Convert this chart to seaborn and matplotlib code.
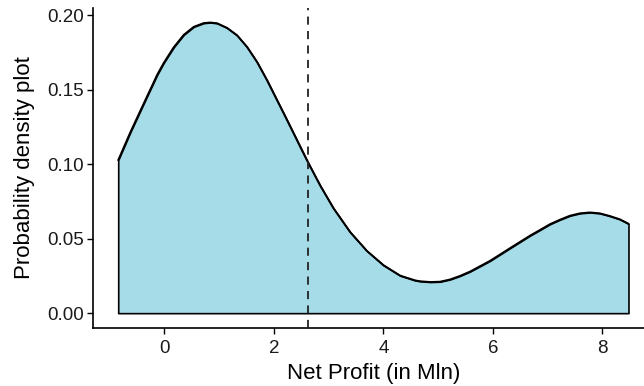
import numpy as np
import pandas as pd
import matplotlib
matplotlib.use("Agg")
import matplotlib.pyplot as plt
import seaborn as sns

# Density curve
profit_x = [-0.845, -0.620, -0.378, -0.133, -0.013, 0.170, 0.352, 0.535, 0.717, 0.839,
            0.962, 1.144, 1.327, 1.509, 1.692, 1.875, 2.057, 2.208, 2.359, 2.496,
            2.633, 2.847, 3.089, 3.394, 3.699, 4.002, 4.307, 4.580, 4.672, 4.854,
            5.036, 5.219, 5.401, 5.584, 5.949, 6.314, 6.496, 6.679, 6.861, 7.044,
            7.226, 7.409, 7.591, 7.774, 7.956, 8.139, 8.321, 8.480]
density_y = [0.1027, 0.1217, 0.1408, 0.1600, 0.1680, 0.1785, 0.1868, 0.1922, 0.1947, 0.1951,
             0.1946, 0.1915, 0.1865, 0.1787, 0.1686, 0.1563, 0.1430, 0.1320, 0.1208, 0.1106,
             0.1005, 0.0856, 0.0704, 0.0544, 0.0418, 0.0322, 0.0252, 0.0220, 0.0214, 0.0209,
             0.0211, 0.0226, 0.0250, 0.0279, 0.0351, 0.0436, 0.0478, 0.0520, 0.0558, 0.0597,
             0.0627, 0.0654, 0.0670, 0.0676, 0.0670, 0.0652, 0.0630, 0.0600]
mean_profit = 2.63
x_ticks = [0, 2, 4, 6, 8]
y_ticks = [0.00, 0.05, 0.10, 0.15, 0.20]
y_tick_labels = ["0.00", "0.05", "0.10", "0.15", "0.20"]

df = pd.DataFrame({"profit": profit_x, "density": density_y})

sns.set_theme(style="ticks")
plt.rcParams["font.family"] = ["Liberation Sans", "DejaVu Sans"]

fig = plt.figure(figsize=(6.44, 3.86), dpi=100)
ax = fig.add_axes([92.7 / 644, 58.3 / 386, 561.3 / 644, 319.7 / 386])

ax.fill_between(df["profit"], df["density"], 0, facecolor="#A6DCE8",
                edgecolor="black", linewidth=1.2, zorder=2)
sns.lineplot(data=df, x="profit", y="density", color="black", linewidth=1.4,
             ax=ax, zorder=3, sort=False,
             solid_joinstyle="round", solid_capstyle="round")
ax.axvline(mean_profit, color="#222222", linestyle=(0, (4.5, 3.5)), linewidth=1.3, zorder=4)

xr = max(profit_x) - min(profit_x)
ax.set_xlim(min(profit_x) - 0.05 * xr, max(profit_x) + 0.05 * xr)
yr = max(density_y)
ax.set_ylim(-0.05 * yr, yr * 1.05)

ax.set_xticks(x_ticks)
ax.set_yticks(y_ticks)
ax.set_yticklabels(y_tick_labels)
ax.tick_params(axis="both", labelsize=13.5, colors="black", length=4, width=1.0,
               labelcolor="#1a1a1a")
ax.tick_params(axis="x", pad=5)
ax.tick_params(axis="y", pad=2)
ax.set_xlabel("Net Profit (in Mln)", fontsize=16, color="black", labelpad=4)
ax.set_ylabel("Probability density plot", fontsize=16, color="black", labelpad=9)
for side in ["left", "bottom"]:
    ax.spines[side].set_linewidth(1.2)
    ax.spines[side].set_color("black")
sns.despine(ax=ax)
ax.grid(False)

fig.savefig("out.png", dpi=100)
